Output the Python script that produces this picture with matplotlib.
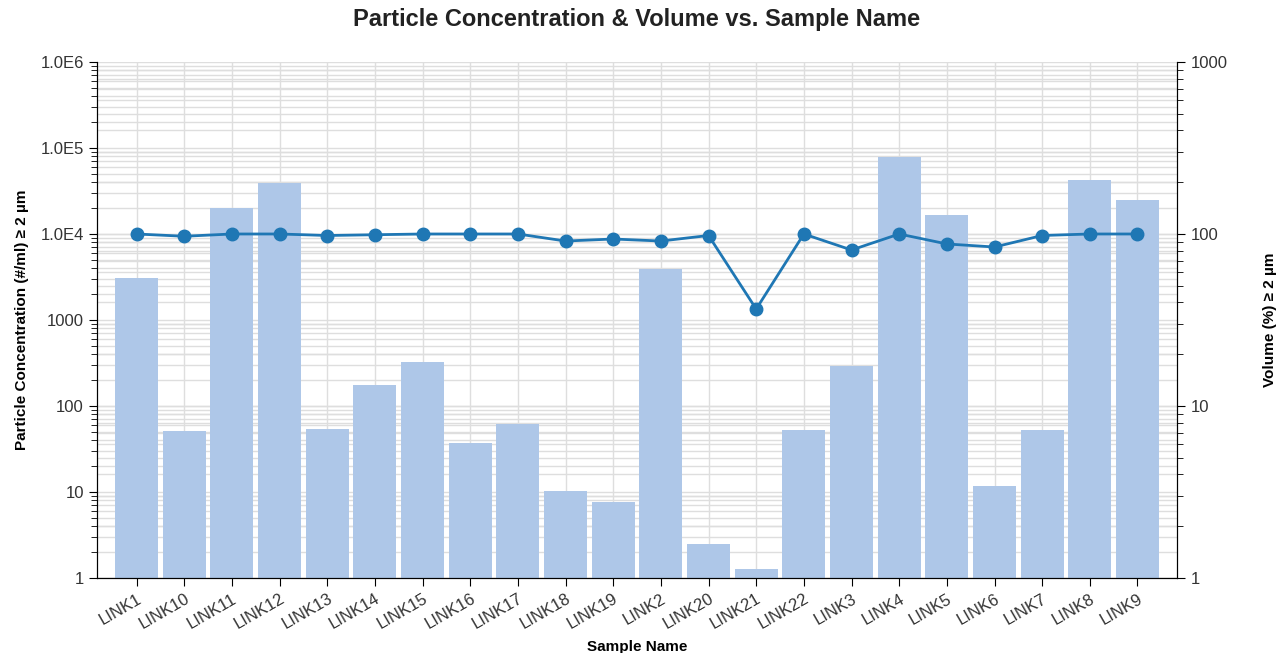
import numpy as np
import matplotlib
matplotlib.use("Agg")
import matplotlib.pyplot as plt
from matplotlib.ticker import FixedLocator, LogLocator, NullFormatter

plt.rcParams['font.family'] = ['Liberation Sans', 'DejaVu Sans']

samples = ["LINK1", "LINK10", "LINK11", "LINK12", "LINK13", "LINK14", "LINK15",
           "LINK16", "LINK17", "LINK18", "LINK19", "LINK2", "LINK20", "LINK21",
           "LINK22", "LINK3", "LINK4", "LINK5", "LINK6", "LINK7", "LINK8", "LINK9"]
concentration = [3100, 51, 20000, 39000, 54, 175, 325, 37, 62, 10.2, 7.6, 3900,
                 2.5, 1.27, 53, 292, 78500, 16600, 11.7, 53, 42500, 25000]
volume = [100, 97, 100, 100, 98, 99, 100, 100, 100, 91, 93.5, 91, 98, 36.6,
          100, 80.7, 100, 87.5, 84, 98, 100, 100]

left_ticks = [1, 10, 100, 1000, 1e4, 1e5, 1e6]
left_labels = ["1", "10", "100", "1000", "1.0E4", "1.0E5", "1.0E6"]
right_ticks = [1, 10, 100, 1000]
right_labels = ["1", "10", "100", "1000"]

grid_c = "#dedede"
text_c = "#333333"

fig = plt.figure(figsize=(12.85, 6.53), dpi=100)
ax = fig.add_axes([0.0755, 0.115, 0.8405, 0.79])
ax2 = ax.twinx()

x = np.arange(len(samples))
ax.bar(x, concentration, width=0.9, color="#aec7e8", zorder=2)
ax.set_yscale("log")
ax.set_ylim(1, 1e6)
ax.set_xlim(-0.83, len(samples) - 1 + 0.83)
ax.yaxis.set_major_locator(FixedLocator(left_ticks))
ax.set_yticklabels(left_labels)
ax.yaxis.set_minor_locator(LogLocator(base=10, subs=np.arange(2, 10)))
ax.yaxis.set_minor_formatter(NullFormatter())

ax.set_xticks(x)
ax.set_xticklabels(samples, rotation=30, ha="right", rotation_mode="anchor")

ax.grid(True, which="both", axis="y", color=grid_c, lw=1, zorder=0)
ax.grid(True, which="major", axis="x", color=grid_c, lw=1, zorder=0)
ax.set_axisbelow(True)

# right-axis grid drawn on the left axes (behind the bars):
# right value v sits at the same height as left value v**2
for dec in [1, 10, 100]:
    for s in range(1, 10):
        ax.axhline((dec * s) ** 2, color=grid_c, lw=1, zorder=0)

ax2.plot(x, volume, color="#1f77b4", lw=2, marker="o", ms=9, zorder=5)
ax2.set_yscale("log")
ax2.set_ylim(1, 1000)
ax2.yaxis.set_major_locator(FixedLocator(right_ticks))
ax2.set_yticklabels(right_labels)
ax2.yaxis.set_minor_locator(LogLocator(base=10, subs=np.arange(2, 10)))
ax2.yaxis.set_minor_formatter(NullFormatter())

for a in (ax, ax2):
    a.spines["top"].set_visible(False)
    a.tick_params(axis="both", which="major", length=6, labelsize=12, labelcolor=text_c)
    a.tick_params(axis="y", which="minor", length=4)

ax.set_title("Particle Concentration & Volume vs. Sample Name", fontsize=17,
             fontweight="bold", color="#222222", pad=26)
ax.set_xlabel("Sample Name", fontsize=11, fontweight="bold", labelpad=6)
ax.set_ylabel("Particle Concentration (#/ml) \u2265 2 \u00b5m", fontsize=11,
              fontweight="bold", labelpad=8)
ax2.set_ylabel("Volume (%) \u2265 2 \u00b5m", fontsize=11, fontweight="bold",
               labelpad=26)

fig.savefig("out.png", dpi=100)
